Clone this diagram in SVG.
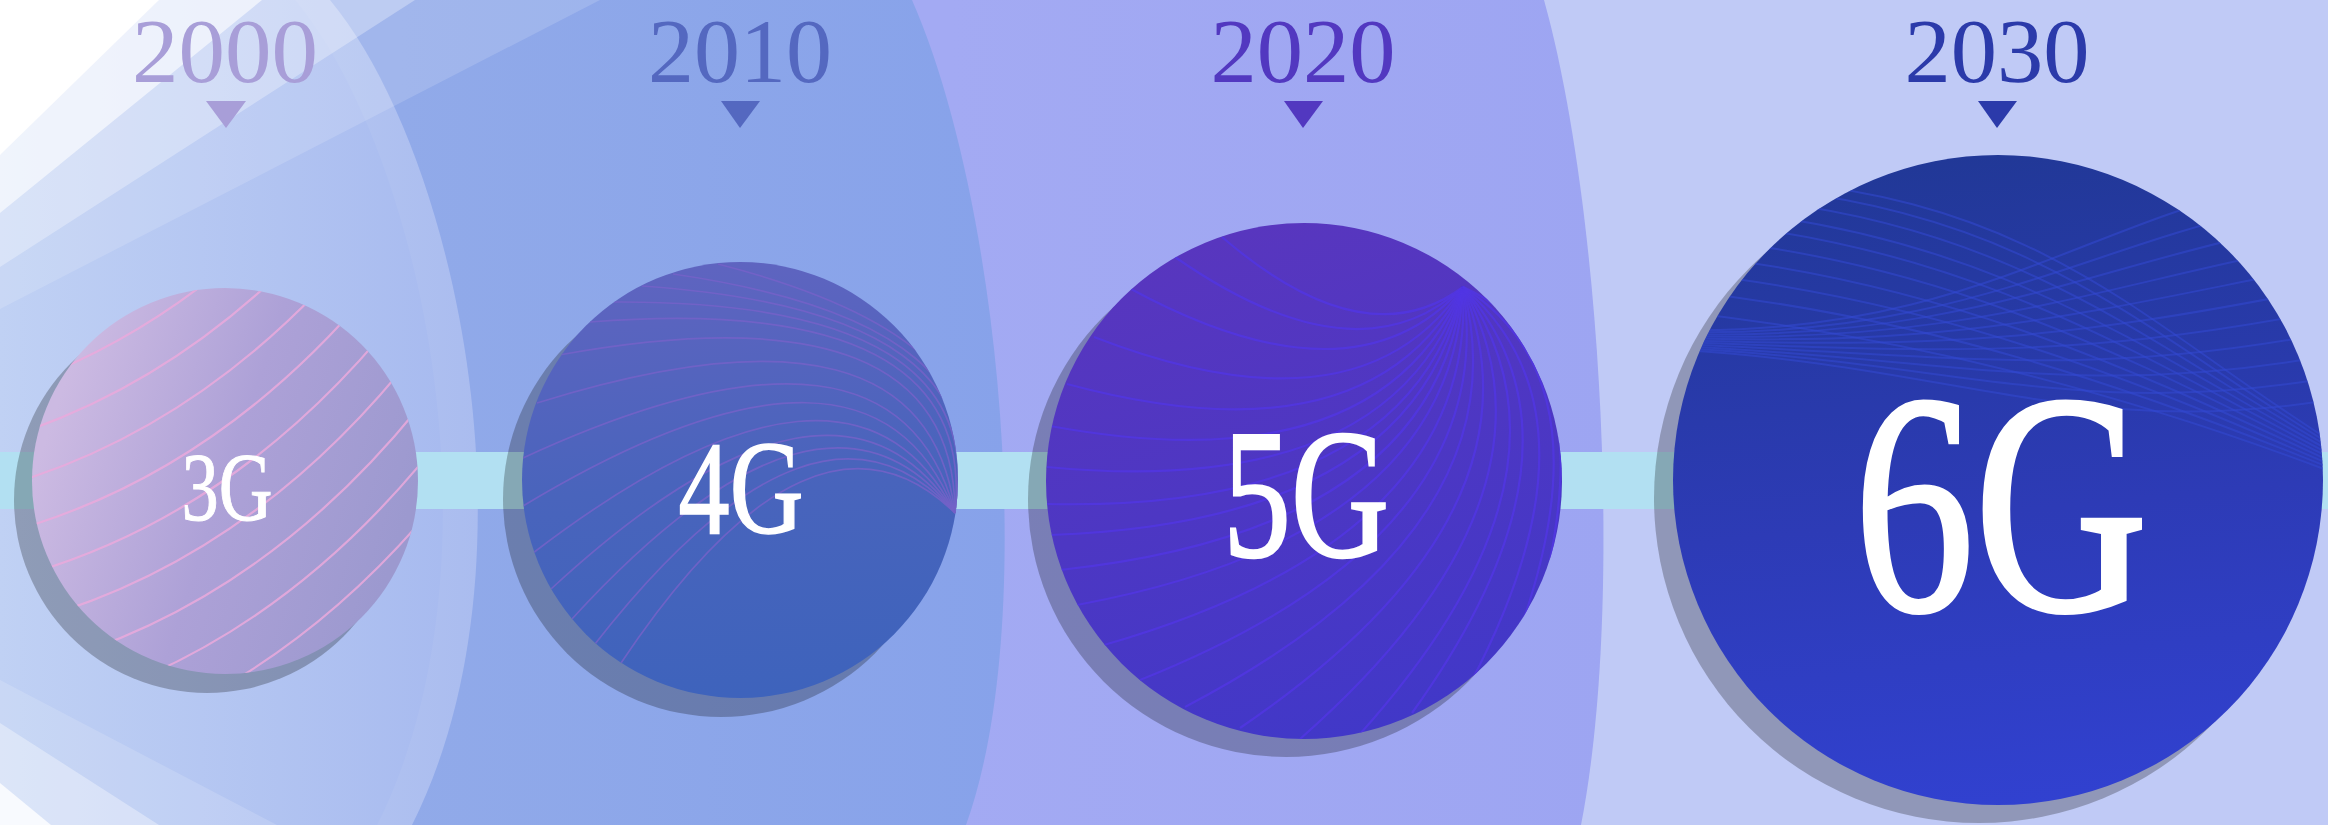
<svg xmlns="http://www.w3.org/2000/svg" width="2328" height="825" viewBox="0 0 2328 825">
<style>
.shadow{fill:#000;fill-opacity:.25}
.year{font-family:"Liberation Serif","DejaVu Serif",serif;font-size:92px;text-anchor:middle}
.gen{font-family:"Liberation Serif","DejaVu Serif",serif;fill:#fff;stroke:#fff;text-anchor:middle}
.l3{fill:none;stroke:#EAA9DC;stroke-width:2.2;opacity:.85}
.l4{fill:none;stroke:#7462C8;stroke-width:1.7;opacity:.85}
.l5{fill:none;stroke:#5136E4;stroke-width:2.2;opacity:.8}
.l6{fill:none;stroke:#3349D2;stroke-width:2;opacity:.55}
.ov{fill:#fff}
</style>
<defs>
<linearGradient id="bg1" x1="0" y1="0" x2="480" y2="0" gradientUnits="userSpaceOnUse"><stop offset="0" stop-color="#C0D1F4"/><stop offset="1" stop-color="#A6B9EF"/></linearGradient>
<linearGradient id="bg2" x1="400" y1="0" x2="1010" y2="0" gradientUnits="userSpaceOnUse"><stop offset="0" stop-color="#91AAE9"/><stop offset="1" stop-color="#87A2EA"/></linearGradient>
<linearGradient id="bg3" x1="950" y1="0" x2="1610" y2="0" gradientUnits="userSpaceOnUse"><stop offset="0" stop-color="#A3AAF3"/><stop offset="1" stop-color="#9DA5F2"/></linearGradient>
<linearGradient id="g3" x1="0.05" y1="0.35" x2="0.95" y2="0.65"><stop offset="0" stop-color="#CCBAE2"/><stop offset="0.5" stop-color="#ADA1D7"/><stop offset="1" stop-color="#9C99CF"/></linearGradient>
<linearGradient id="g4" x1="0.4" y1="0" x2="0.5" y2="1"><stop offset="0" stop-color="#5F64C0"/><stop offset="0.5" stop-color="#4964BC"/><stop offset="1" stop-color="#3E63BC"/></linearGradient>
<linearGradient id="g5" x1="0.3" y1="0" x2="0.6" y2="1"><stop offset="0" stop-color="#5936BE"/><stop offset="1" stop-color="#4138C8"/></linearGradient>
<linearGradient id="g6" x1="0.45" y1="0" x2="0.55" y2="1"><stop offset="0" stop-color="#213897"/><stop offset="0.55" stop-color="#2D3BB6"/><stop offset="1" stop-color="#3141D0"/></linearGradient>
<clipPath id="c3"><circle cx="225" cy="481" r="193"/></clipPath>
<clipPath id="c4"><circle cx="740" cy="480" r="218"/></clipPath>
<clipPath id="c5"><circle cx="1304" cy="481" r="258"/></clipPath>
<clipPath id="c6"><circle cx="1998" cy="480" r="325"/></clipPath>
<path id="t3" d="M-70,595 Q250,550 460,230"/>
</defs>

<g id="background">
<rect x="0" y="0" width="2328" height="825" fill="#C0CAF6"/>
<path d="M0,0 L1544,0 C1600,200 1625,600 1581,825 L0,825 Z" fill="url(#bg3)"/>
<path d="M0,0 L912,0 C1000,200 1040,620 966,825 L0,825 Z" fill="url(#bg2)"/>
<path d="M0,0 L330,0 C455,150 545,560 412,825 L0,825 Z" fill="url(#bg1)"/>
<path d="M295,0 L330,0 C455,150 545,560 412,825 L377,825 C510,560 420,150 295,0 Z" class="ov" opacity="0.05"/>
<polygon class="ov" opacity="0.15" points="0,0 600,0 0,309"/>
<polygon class="ov" opacity="0.3" points="0,0 415,0 0,267"/>
<polygon class="ov" opacity="0.6" points="0,0 262,0 0,213"/>
<polygon class="ov" points="0,0 159,0 0,155"/>
<polygon class="ov" opacity="0.15" points="0,680 277,825 0,825"/>
<polygon class="ov" opacity="0.35" points="0,723 159,825 0,825"/>
<polygon class="ov" opacity="0.8" points="0,783 51,825 0,825"/>
</g>

<g id="connectors">
<rect x="0" y="452" width="2328" height="57" fill="#B2E0F2"/>
</g>

<g id="node-3g">
<circle class="shadow" cx="207" cy="500" r="193"/>
<circle cx="225" cy="481" r="193" fill="url(#g3)"/>
<g clip-path="url(#c3)">
<use href="#t3" class="l3" transform="translate(-72,-264)"/>
<use href="#t3" class="l3" transform="translate(-60,-220)"/>
<use href="#t3" class="l3" transform="translate(-48,-176)"/>
<use href="#t3" class="l3" transform="translate(-36,-132)"/>
<use href="#t3" class="l3" transform="translate(-24,-88)"/>
<use href="#t3" class="l3" transform="translate(-12,-44)"/>
<use href="#t3" class="l3"/>
<use href="#t3" class="l3" transform="translate(12,44)"/>
<use href="#t3" class="l3" transform="translate(24,88)"/>
<use href="#t3" class="l3" transform="translate(36,132)"/>
<use href="#t3" class="l3" transform="translate(48,176)"/>
<use href="#t3" class="l3" transform="translate(60,220)"/>
<use href="#t3" class="l3" transform="translate(72,264)"/>
</g>
<text class="gen" x="227" y="520" font-size="98" stroke-width="1" textLength="91" lengthAdjust="spacingAndGlyphs">3G</text>
<text class="year" x="225" y="82" fill="#A89ED8" textLength="186" lengthAdjust="spacingAndGlyphs">2000</text>
<polygon points="206,101 246,101 226,128" fill="#A89ED8"/>
</g>

<g id="node-4g">
<circle class="shadow" cx="721" cy="499" r="218"/>
<circle cx="740" cy="480" r="218" fill="url(#g4)"/>
<g clip-path="url(#c4)">
<path class="l4" d="M621,663 Q813,376 955,513"/>
<path class="l4" d="M595,644 Q818,359 955,513"/>
<path class="l4" d="M571,620 Q825,342 955,513"/>
<path class="l4" d="M551,589 Q836,326 955,513"/>
<path class="l4" d="M533,553 Q851,310 955,513"/>
<path class="l4" d="M523,506 Q872,296 955,513"/>
<path class="l4" d="M523,458 Q896,286 955,513"/>
<path class="l4" d="M537,403 Q926,282 955,513"/>
<path class="l4" d="M559,355 Q955,283 955,513"/>
<path class="l4" d="M590,322 Q978,292 955,513"/>
<path class="l4" d="M614,302 Q992,300 955,513"/>
<path class="l4" d="M642,286 Q1006,311 955,513"/>
<path class="l4" d="M673,274 Q1018,324 955,513"/>
<path class="l4" d="M718,264 Q1032,345 955,513"/>
</g>
<text class="gen" x="741" y="533" font-size="133" stroke-width="1.6" textLength="125" lengthAdjust="spacingAndGlyphs">4G</text>
<text class="year" x="740" y="82" fill="#5468C0" textLength="184" lengthAdjust="spacingAndGlyphs">2010</text>
<polygon points="721,101 760,101 740,128" fill="#5468C0"/>
</g>

<g id="node-5g">
<circle class="shadow" cx="1286" cy="499" r="258"/>
<circle cx="1304" cy="481" r="258" fill="url(#g5)"/>
<g clip-path="url(#c5)">
<path class="l5" d="M1222,237 Q1365,360 1463,287"/>
<path class="l5" d="M1175,257 Q1357,384 1463,287"/>
<path class="l5" d="M1131,289 Q1354,410 1463,287"/>
<path class="l5" d="M1094,337 Q1360,440 1463,287"/>
<path class="l5" d="M1067,384 Q1368,465 1463,287"/>
<path class="l5" d="M1050,426 Q1378,486 1463,287"/>
<path class="l5" d="M1047,467 Q1392,500 1463,287"/>
<path class="l5" d="M1047,504 Q1406,512 1463,287"/>
<path class="l5" d="M1050,535 Q1418,522 1463,287"/>
<path class="l5" d="M1060,570 Q1435,530 1463,287"/>
<path class="l5" d="M1077,605 Q1453,535 1463,287"/>
<path class="l5" d="M1104,645 Q1477,538 1463,287"/>
<path class="l5" d="M1140,680 Q1502,536 1463,287"/>
<path class="l5" d="M1185,707 Q1527,528 1463,287"/>
<path class="l5" d="M1240,728 Q1553,515 1463,287"/>
<path class="l5" d="M1300,739 Q1576,496 1463,287"/>
<path class="l5" d="M1360,734 Q1594,473 1463,287"/>
<path class="l5" d="M1412,713 Q1604,446 1463,287"/>
<path class="l5" d="M1470,684 Q1612,415 1463,287"/>
<path class="l5" d="M1520,630 Q1609,379 1463,287"/>
<path class="l5" d="M1550,560 Q1593,345 1463,287"/>
</g>
<text class="gen" x="1306" y="556" font-size="185" stroke-width="2.5" textLength="166" lengthAdjust="spacingAndGlyphs">5G</text>
<text class="year" x="1303" y="82" fill="#5238C0" textLength="185" lengthAdjust="spacingAndGlyphs">2020</text>
<polygon points="1284,101 1323,101 1303,128" fill="#5238C0"/>
</g>

<g id="node-6g">
<circle class="shadow" cx="1979" cy="498" r="325"/>
<circle cx="1998" cy="480" r="325" fill="url(#g6)"/>
<g clip-path="url(#c6)">
<path class="l6" d="M1771,180 C2051,205 2150,330 2345,450"/>
<path class="l6" d="M1757,188 C2038,213 2150,338 2345,453"/>
<path class="l6" d="M1737,198 C2017,223 2150,346 2345,456"/>
<path class="l6" d="M1716,210 C1996,235 2150,354 2345,459"/>
<path class="l6" d="M1699,222 C1979,247 2150,362 2345,462"/>
<path class="l6" d="M1683,237 C1963,262 2150,370 2345,465"/>
<path class="l6" d="M1668,253 C1948,278 2150,378 2345,468"/>
<path class="l6" d="M1657,270 C1937,295 2150,386 2345,471"/>
<path class="l6" d="M1645,287 C1925,312 2150,394 2345,474"/>
<path class="l6" d="M1632,307 C1912,332 2150,402 2345,477"/>
<path class="l6" d="M1680,330 C1950,335 2080,230 2250,190"/>
<path class="l6" d="M1680,332 C1950,338 2080,251 2258,211"/>
<path class="l6" d="M1680,334 C1950,341 2080,272 2266,232"/>
<path class="l6" d="M1680,336 C1950,344 2080,293 2274,253"/>
<path class="l6" d="M1680,338 C1950,347 2080,314 2282,274"/>
<path class="l6" d="M1680,340 C1950,350 2080,335 2290,295"/>
<path class="l6" d="M1680,342 C1950,353 2080,356 2298,316"/>
<path class="l6" d="M1680,344 C1950,356 2080,377 2306,337"/>
<path class="l6" d="M1680,346 C1950,359 2080,398 2314,358"/>
<path class="l6" d="M1680,348 C1950,362 2080,419 2322,379"/>
<path class="l6" d="M1680,350 C1950,365 2080,440 2330,400"/>
</g>
<text class="gen" x="2001" y="610" font-size="315" stroke-width="4" textLength="294" lengthAdjust="spacingAndGlyphs">6G</text>
<text class="year" x="1997" y="82" fill="#2B3AAA" textLength="185" lengthAdjust="spacingAndGlyphs">2030</text>
<polygon points="1978,101 2017,101 1997,128" fill="#2B3AAA"/>
</g>
</svg>
